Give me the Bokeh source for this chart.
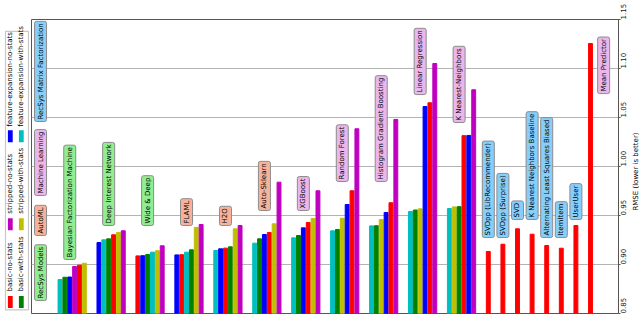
import math
from bokeh.plotting import figure
from bokeh.layouts import row
from bokeh.models import Range1d, FixedTicker, PrintfTickFormatter, ColumnDataSource
from bokeh.embed import file_html
from bokeh.resources import INLINE
from bokeh.core.properties import value

# ---------------- data ----------------
series = ["basic-no-stats", "basic-with-stats", "stripped-no-stats",
          "stripped-with-stats", "feature-expansion-no-stats", "feature-expansion-with-stats"]
series_colors = ["#ff0000", "#008000", "#bf00bf", "#bfbf00", "#0000ff", "#00bfbf"]

models = ["Bayesian Factorization Machine", "Deep Interest Network", "Wide & Deep",
          "FLAML", "H2O", "Auto-Sklearn",
          "XGBoost", "Random Forest", "Histogram Gradient Boosting", "Linear Regression",
          "K Nearest-Neighbors",
          "SVDpp (LibRecommender)", "SVDpp (Surprise)", "SVD", "K Nearest Neighbors Baseline",
          "Alternating Least Squares Biased", "ItemItem", "UserUser", "Mean Predictor"]
model_category = ["RecSys Models"] * 3 + ["AutoML"] * 3 + ["Machine Learning"] * 5 + \
                 ["RecSys Matrix Factorization"] * 7 + ["Machine Learning"]

categories = ["RecSys Models", "AutoML", "Machine Learning", "RecSys Matrix Factorization"]
category_colors = ["#90ee90", "#f7b29c", "#ebb6eb", "#87cefa"]

basic_no_stats = [0.8993, 0.9303, 0.9088, 0.9100, 0.9167, 0.9327, 0.9429, 0.9752, 0.9630, 1.0650, 1.0315,
                  0.9133, 0.9207, 0.9364, 0.9309, 0.9194, 0.9166, 0.9398, 1.1255]
basic_with_stats = [0.8870, 0.9262, 0.9102, 0.9150, 0.9180, 0.9262, 0.9296, 0.9357, 0.9396, 0.9556, 0.9590] + [None] * 8
stripped_no_stats = [0.8980, 0.9344, 0.9191, 0.9408, 0.9398, 0.9840, 0.9752, 1.0385, 1.0480, 1.1051, 1.0783] + [None] * 8
stripped_with_stats = [0.9013, 0.9327, 0.9140, 0.9378, 0.9364, 0.9415, 0.9469, 0.9472, 0.9459, 0.9568, 0.9588] + [None] * 8
fe_no_stats = [0.8872, 0.9224, 0.9090, 0.9098, 0.9160, 0.9306, 0.9374, 0.9612, 0.9531, 1.0612, 1.0317] + [None] * 8
fe_with_stats = [0.8847, 0.9252, 0.9126, 0.9126, 0.9143, 0.9218, 0.9272, 0.9344, 0.9394, 0.9541, 0.9571] + [None] * 8

yticks = [0.85, 0.90, 0.95, 1.00, 1.05, 1.10, 1.15]
y_label = "RMSE (lower is better)"

# ---------------- layout constants ----------------
label_base = [0.9031, 0.9378, 0.9378, 0.9378, 0.9378, 0.9531, 0.9531, 0.9827, 0.9827, 1.0714, 1.0429,
              0.9255, 0.9255, 0.9439, 0.9439, 0.9255, 0.9255, 0.9439, 1.0724]
label_shift = [0.0] * 18 + [2.7]
category_base = [0.8612, 0.9276, 0.9684, 1.0439]
category_x = -4.0

FONT = value("DejaVu Sans")
H = 321

all_series = [basic_no_stats, basic_with_stats, stripped_no_stats,
              stripped_with_stats, fe_no_stats, fe_with_stats]

bx, btop, bcol = [], [], []
lx, ly, ltext, lcol = [], [], [], []
pos = 0.0
for i, m in enumerate(models):
    vals = [(s[i], c) for s, c in zip(all_series, series_colors) if s[i] is not None]
    vals.sort(key=lambda t: t[0])
    for k, (v, c) in enumerate(vals):
        bx.append(pos + k)
        btop.append(v)
        bcol.append(c)
    if len(vals) > 1:
        lx.append(pos + 2 + label_shift[i])
        step = 8
    else:
        lx.append(pos + label_shift[i])
        step = 3
    ly.append(label_base[i] + 0.002)
    ltext.append(m)
    lcol.append(category_colors[categories.index(model_category[i])])
    pos += step

for c, b, col in zip(categories, category_base, category_colors):
    lx.append(category_x)
    ly.append(b + 0.002)
    ltext.append(c)
    lcol.append(col)

# ---------------- main figure ----------------
px_per_unit = 4.867
frame_w = 587
x0 = -5.856
p = figure(width=601, height=H, output_backend="svg", toolbar_location=None,
           x_axis_location=None, y_axis_location="right",
           x_range=Range1d(x0, x0 + frame_w / px_per_unit),
           y_range=Range1d(yticks[0], yticks[-1]),
           min_border_left=1, min_border_top=19, min_border_bottom=8, min_border_right=0)
p.background_fill_color = "white"
p.border_fill_color = "white"
p.outline_line_color = "#555555"
p.outline_line_width = 1
p.xgrid.grid_line_color = None
p.ygrid.grid_line_color = "#b4b4b4"
p.ygrid.grid_line_width = 1.2

ax = p.yaxis[0]
ax.ticker = FixedTicker(ticks=yticks)
ax.formatter = PrintfTickFormatter(format="%.2f")
ax.major_label_orientation = math.pi / 2
ax.major_label_text_font = "DejaVu Sans"
ax.major_label_text_font_size = "7px"
ax.major_label_text_color = "#222222"
ax.major_label_standoff = 2
ax.major_tick_out = 2
ax.major_tick_in = 0
ax.minor_tick_line_color = None
ax.axis_line_color = "#555555"
ax.major_tick_line_color = "#555555"

src = ColumnDataSource(dict(x=bx, top=btop, color=bcol))
p.vbar(x="x", top="top", bottom=yticks[0], width=0.8, color="color", source=src)

lsrc = ColumnDataSource(dict(x=lx, y=ly, text=ltext, bg=lcol))
p.text(x="x", y="y", text="text", source=lsrc, angle=math.pi / 2,
       text_align="left", text_baseline="middle", text_font=FONT, text_font_size="7px",
       text_color="black", background_fill_color="bg", border_line_color="#8c8c8c",
       border_line_width=1, padding=2, border_radius=2)

# ---------------- legend figure ----------------
lg = figure(width=30, height=H, output_backend="svg", toolbar_location=None,
            x_axis_location=None, y_axis_location=None,
            x_range=Range1d(0, 30), y_range=Range1d(H, 0), min_border=0)
lg.outline_line_color = None
lg.grid.grid_line_color = None
lg.quad(left=5, right=28, top=13, bottom=317, fill_color="white",
        line_color="#c8c8c8", line_width=1.2)
col_x = [9.8, 20.8]
row_sw = [308.5, 223.5, 127.5]
row_tx = [297, 212, 117]
sw_x, sw_y, sw_c, tx_x, tx_y, tx_t = [], [], [], [], [], []
for j, (name, c) in enumerate(zip(series, series_colors)):
    r, cc = j // 2, j % 2
    sw_x.append(col_x[cc]); sw_y.append(row_sw[r]); sw_c.append(c)
    tx_x.append(col_x[cc]); tx_y.append(row_tx[r]); tx_t.append(name)
lg.rect(x=sw_x, y=sw_y, width=4.8, height=13, fill_color=sw_c, line_color=None)
lg.text(x=tx_x, y=tx_y, text=tx_t, angle=math.pi / 2, text_align="left",
        text_baseline="middle", text_font=FONT, text_font_size="7px", text_color="black")

# ---------------- axis label figure ----------------
lf = figure(width=9, height=H, output_backend="svg", toolbar_location=None,
            x_axis_location=None, y_axis_location=None,
            x_range=Range1d(0, 9), y_range=Range1d(H, 0), min_border=0)
lf.outline_line_color = None
lf.grid.grid_line_color = None
lf.text(x=[4.5], y=[166], text=[y_label], angle=math.pi / 2, text_align="center",
        text_baseline="middle", text_font=FONT, text_font_size="7px", text_color="black")

layout = row(lg, p, lf, spacing=0)
open("out.html", "w").write(file_html(layout, INLINE))
